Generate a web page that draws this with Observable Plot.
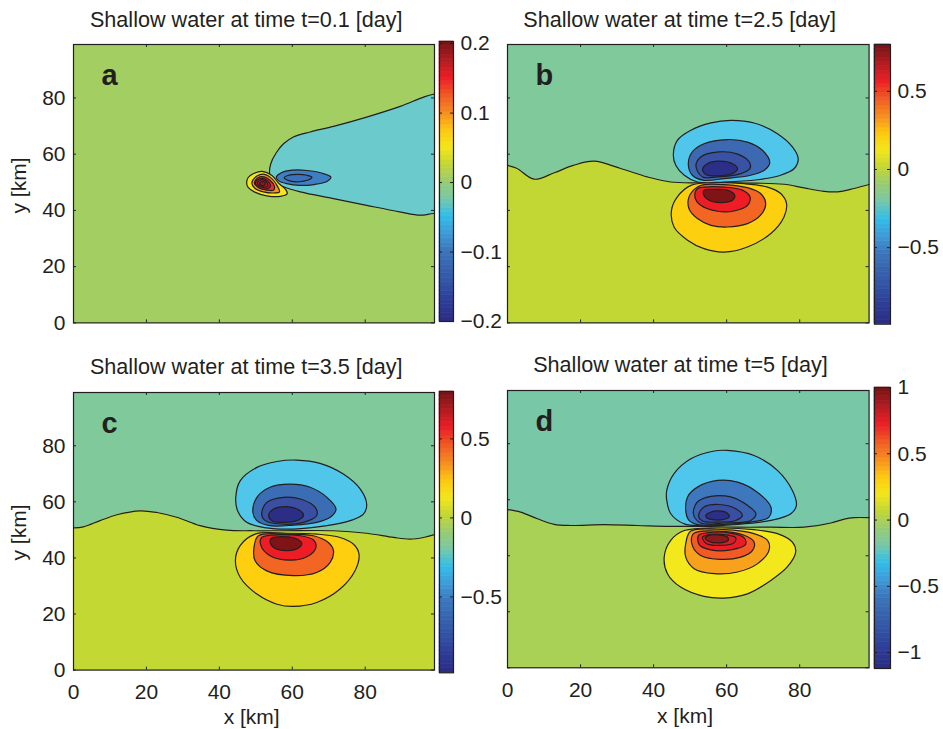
<!DOCTYPE html>
<html><head><meta charset="utf-8">
<script src="https://cdn.jsdelivr.net/npm/d3@7"></script>
<script src="https://cdn.jsdelivr.net/npm/@observablehq/plot@0.6"></script>
<style>
body{margin:0;background:#fff;}
#root{position:relative;width:943px;height:729px;overflow:hidden;font-family:"Liberation Sans",Arial,Helvetica,sans-serif;color:#231f20;background:#fff;}
.t{position:absolute;font-size:21px;line-height:21px;white-space:nowrap;text-align:center;width:400px;}
.t.h{font-size:21.6px;}
</style></head><body><div id="root"></div><script>
// ---------- tick values ----------
const xTicks = [0, 20, 40, 60, 80];
const yTicks = [0, 20, 40, 60, 80];
const titles = ["Shallow water at time t=0.1 [day]", "Shallow water at time t=2.5 [day]", "Shallow water at time t=3.5 [day]", "Shallow water at time t=5 [day]"];
const letters = ["a", "b", "c", "d"];
const cbDomainA = [-0.2, 0.203], cbTicksA = [-0.2, -0.1, 0, 0.1, 0.2];
const cbDomainB = [-0.99, 0.8], cbTicksB = [-0.5, 0, 0.5];
const cbDomainC = [-0.98, 0.8], cbTicksC = [-0.5, 0, 0.5];
const cbDomainD = [-1.12, 1.0], cbTicksD = [-1, -0.5, 0, 0.5, 1];
// printed "jet" colormap stops (bottom to top)
const JET = ["#2b2e84","#2e3d97","#3251a3","#3763ae","#3c76bb","#3f9bd7","#32bdea","#78c8a8","#98cc72","#c4d733","#f3e61a","#fdc60f","#f68c20","#f05a23","#ec1e25","#b41b20","#7b1416"];

// ---------- panel a (t=0.1) ----------
const levelsA = [-0.125, -0.1, -0.05, 0, 0.025, 0.05, 0.075, 0.1, 0.125, 0.15];
const fillsA = ["#3a72bb","#3e7fc4","#6bcacc","#a3cf62","#f4e61b","#f7901e","#e42b29","#cc2229","#a81e23","#8a191b"];
const aCyan = [[103,81.8],[98.7,81.3],[96,80.3],[89.6,77.0],[80.4,73.2],[71.3,69.9],[64.9,67.9],[60.3,66.1],[57.6,63.7],[55.6,60.5],[54.1,56.6],[53.8,53.1],[54.9,50.1],[57.6,48.4],[62.2,46.6],[71.3,44.2],[80.4,41.8],[89.4,39.5],[95.1,38.3],[98.7,38.9],[103,39]];
const aBlue = [[55.6,51.8],[57.0,53.4],[60,54.3],[64,54.2],[68,53.3],[70.6,51.8],[69.5,50.3],[66,49.2],[62,48.9],[58.5,49.5],[56.3,50.5]];
const aBlue2 = [[57.8,51.6],[59,52.5],[61.5,52.8],[64,52.5],[65.4,51.8],[64.3,50.8],[61.8,50.2],[59.3,50.5]];
const aYellow = [[47.5,49.6],[47.9,51.7],[49.4,53.1],[51.7,53.9],[54.5,52.3],[56.3,49.6],[58.2,47.4],[58.6,45.9],[56.7,45.0],[53.0,45.2],[49.7,46.5],[47.9,48.2]];
const aOrange = [[48.9,49.8],[50.3,52.2],[52.1,52.9],[54.4,51.3],[55.8,48.9],[56.5,46.6],[54.9,46.2],[52.1,46.6],[49.8,47.8]];
const aRed = [[49.6,49.8],[50.7,51.7],[52.3,51.9],[53.9,50.7],[55.1,48.6],[54.9,47.2],[53.0,47.2],[50.7,48.2]];
const aRed1 = [[49.9,49.6],[50.8,51.1],[52.2,51.3],[53.4,50.3],[54.0,48.6],[53.0,47.7],[51.2,47.8]];
const aRed2 = [[50.4,49.6],[51.1,50.7],[52.3,50.8],[53.1,49.8],[53.3,48.6],[52.2,48.2],[51.0,48.6]];
const aRed3 = [[51.0,49.5],[51.6,50.2],[52.3,50.2],[52.6,49.4],[52.2,48.8],[51.4,48.9]];

// ---------- panel b (t=2.5) ----------
const levelsB = [-0.85, -0.7, -0.55, -0.4, -0.2, 0, 0.2, 0.4, 0.6, 0.75];
const fillsB = ["#2b2f87","#3a52a4","#3c69b1","#4fc6ea","#7fc99b","#c2d734","#fdd00f","#f26522","#ee1c25","#7f1416"];
const zeroB = [[0,56.0],[2.5,55.0],[7.3,51.1],[12.8,53.4],[18,56.0],[23.7,57.5],[31,54.9],[38.3,51.9],[44.7,50.1],[52,49.8],[60,49.8],[68,49.7],[75.7,49.3],[81.2,48.0],[86,46.9],[90.3,46.6],[94.9,47.8],[99,49.2]];
const bL1 = [[45.4,59.6],[46.5,64.9],[50.2,68.5],[55.7,71.1],[61.1,72.0],[67.5,71.1],[73.9,67.3],[78.0,62.6],[79.6,58.4],[78.5,54.9],[74.8,52.5],[68.4,50.9],[59.3,50.1],[52.0,50.1],[48.4,52.5],[46.1,56.0]];
const bL2 = [[49.5,56.6],[50.6,60.8],[53.8,63.7],[60.2,65.2],[65.7,64.3],[69.8,61.4],[71.8,56.9],[70.3,54.3],[66.6,52.5],[59.3,51.3],[53.8,50.7],[50.6,52.5]];
const bL3 = [[51.6,55.7],[52.9,59.0],[57.9,60.8],[63.0,60.0],[66.2,57.2],[66.4,54.9],[63.9,53.1],[57.5,51.9],[53.4,51.9]];
const bL4 = [[53.4,54.5],[54.7,56.6],[57.9,57.5],[61.6,56.6],[63.0,54.9],[61.6,53.1],[57.5,52.3],[54.3,52.8]];
const bY = [[50.2,48.9],[46.5,44.8],[44.9,40.0],[45.6,34.1],[49.3,29.4],[53.8,26.4],[59.3,25.2],[65.7,27.0],[72.1,31.8],[75.7,37.7],[76.4,42.4],[74.8,46.0],[71.2,48.3],[64.8,49.5],[55.7,49.8]];
const bO = [[52.0,48.3],[49.7,44.8],[49.7,40.6],[52.0,37.1],[55.7,34.7],[60.2,34.1],[65.7,35.3],[69.3,38.3],[70.7,42.4],[69.3,46.0],[65.7,48.1],[59.3,49.2],[53.8,49.2]];
const bR = [[52.0,47.7],[51.3,44.8],[52.9,41.8],[57.5,39.7],[62.0,39.8],[65.7,41.8],[66.4,44.8],[64.3,47.2],[59.3,48.3],[53.8,48.3]];
const bDR = [[53.6,46.0],[55.2,43.6],[58.4,42.8],[61.6,43.6],[62.2,45.4],[60.2,47.2],[56.6,47.5],[53.8,47.2]];

// ---------- panel c (t=3.5) ----------
const levelsC = [-0.85, -0.7, -0.55, -0.4, -0.2, 0, 0.2, 0.4, 0.6, 0.75];
const fillsC = ["#2c2e86","#3a4fa2","#3b6db4","#4fc6ea","#7fc99b","#c4d834","#fdcf0f","#f26522","#ee1c25","#7f1416"];
const zeroC = [[0,50.7],[2.7,51.1],[7.3,53.3],[11.9,55.4],[18.3,56.8],[22.9,56.2],[28.3,54.5],[34.7,51.5],[42.0,49.9],[49.4,49.7],[57.6,49.7],[71.3,49.7],[80.4,48.8],[87.8,47.3],[92.3,46.7],[96.0,47.3],[99,48.3]];
const cL1 = [[44.5,61.6],[45.7,67.5],[50.3,72.3],[55.8,74.4],[61.2,74.9],[67.6,73.7],[74.0,69.9],[78.6,64.6],[80.4,59.2],[79.5,55.6],[75.9,53.3],[69.5,51.5],[60.3,50.3],[53.0,50.7],[47.5,52.7],[45.0,56.8]];
const cL2 = [[49.2,56.2],[50.3,61.6],[53.9,65.2],[59.4,66.3],[64.9,65.2],[69.5,61.6],[72.0,57.4],[70.4,54.5],[66.7,52.7],[60.3,51.7],[53.9,51.5],[50.3,53.3]];
const cL3 = [[51.6,55.6],[53.0,59.8],[57.6,61.6],[62.2,61.0],[66.3,58.0],[66.7,55.1],[63.1,52.7],[56.7,52.1],[52.6,53.3]];
const cL4 = [[53.5,55.1],[54.8,57.4],[58.5,58.3],[62.2,56.8],[63.1,55.1],[61.2,53.3],[57.6,52.7],[54.4,53.3]];
const cY = [[49.8,48.5],[45.7,44.4],[44.4,39.0],[45.7,33.1],[50.3,27.1],[55.8,23.5],[60.3,22.7],[66.7,24.1],[73.1,28.9],[77.2,35.4],[78.3,41.4],[76.8,44.9],[73.1,47.3],[66.7,48.5],[58.5,48.8]];
const cO = [[50.7,47.9],[49.5,43.8],[49.8,39.0],[53.0,35.4],[60.3,33.7],[66.7,34.8],[70.4,38.4],[71.3,42.6],[69.9,45.5],[65.8,47.9],[58.5,48.5]];
const cR = [[51.6,47.3],[51.4,44.4],[53.9,40.8],[59.4,39.2],[64.0,40.4],[66.5,43.8],[65.8,46.4],[62.2,47.9],[56.7,48.3]];
const cDR = [[53.9,46.1],[54.8,43.8],[58.5,42.6],[61.7,43.5],[62.6,45.2],[60.8,47.0],[57.1,47.6],[54.4,47.1]];

// ---------- panel d (t=5) ----------
const levelsD = [-1, -0.8, -0.65, -0.5, -0.25, -0.1, 0.1, 0.25, 0.4, 0.55, 0.7, 0.85, 1];
const fillsD = ["#2c2f88","#3a4ea3","#3b62ae","#3d77bd","#4fc7ec","#78c8a8","#a9d155","#f2e81b","#f8a11d","#f15a24","#ec1c24","#d51f26","#8a1a1c"];
const zeroD = [[0,56.5],[3.6,55.6],[8.2,53.2],[12.8,51.2],[17.3,50.8],[26.5,51.1],[35.6,50.8],[44.7,50.5],[53.8,50.5],[63.0,50.2],[72.1,50.2],[81.2,50.2],[88.5,51.7],[92.2,53.1],[94.9,53.6],[99,53.6]];
const dL1 = [[43.6,63.3],[45.6,69.3],[50.2,74.6],[56.6,77.4],[60.2,77.6],[67.5,75.8],[73.9,70.5],[78.0,63.3],[79.1,58.0],[77.6,55.0],[72.1,52.6],[63.0,51.2],[53.8,50.8],[48.4,51.4],[44.7,55.0],[43.6,59.8]];
const dL2 = [[48.8,56.2],[49.3,61.0],[52.0,64.5],[57.5,66.9],[63.0,66.3],[68.4,62.7],[72.1,57.4],[71.6,53.8],[66.6,52.0],[58.4,51.1],[52.0,51.1],[49.7,52.6]];
const dL3 = [[50.9,55.0],[52.0,59.2],[55.7,61.2],[61.1,61.0],[65.7,58.0],[68.0,55.0],[66.6,52.6],[59.3,51.7],[52.9,51.7]];
const dL4 = [[52.3,54.4],[53.8,57.4],[57.9,58.3],[62.5,56.8],[64.3,54.4],[62.5,52.6],[57.5,52.0],[53.4,52.4]];
const dL5 = [[54.3,54.4],[55.7,55.6],[57.9,56.0],[60.2,55.2],[60.7,53.8],[58.9,52.9],[56.1,52.9],[54.6,53.5]];
const dY = [[48.4,49.0],[44.7,45.5],[42.9,39.5],[43.8,33.6],[47.4,28.8],[53.8,25.5],[59.3,24.9],[65.7,26.4],[72.1,31.2],[76.6,36.0],[78.9,41.3],[78.0,44.9],[73.9,47.9],[67.5,49.3],[57.5,49.9]];
const dO = [[50.2,48.8],[48.8,44.3],[48.8,39.5],[51.1,35.4],[56.6,33.6],[63.0,34.2],[68.4,37.1],[71.6,41.9],[71.2,45.5],[67.5,47.9],[59.3,49.3]];
const dOR = [[50.9,47.9],[50.6,43.7],[52.9,40.1],[58.4,38.7],[63.9,39.5],[67.1,41.9],[67.5,44.9],[64.8,47.3],[57.5,48.8]];
const dR = [[52.3,47.3],[52.5,44.0],[55.7,42.1],[61.1,42.1],[65.2,44.0],[64.8,46.4],[61.1,48.1],[54.7,48.2]];
const dR2 = [[53.4,46.7],[54.3,44.5],[57.9,43.7],[62.0,44.6],[62.5,46.4],[59.8,47.5],[55.7,47.6]];
const dDR = [[54.1,46.4],[55.2,45.1],[57.9,44.6],[60.4,45.5],[60.2,46.7],[57.9,47.4],[55.2,47.3]];

// ---------- assembly ----------
const INK = "#231f20";
const FONT = "'Liberation Sans', Arial, Helvetica, sans-serif";
const root = document.getElementById("root");
function place(el, left, top) {
  el.style.position = "absolute"; el.style.left = left + "px"; el.style.top = top + "px";
  root.appendChild(el);
}
function panel(p) {
  const ml = 74, mr = 4, mt = 4, mb = 42;
  const [fx1, fy1, fx2, fy2] = p.frame;
  const fw = fx2 - fx1, fh = fy2 - fy1;
  const rows = p.contours.flatMap((c, i) => c.pts.map(([x, y]) => ({id: i, level: c.level, x, y})));
  const col = l => p.fills[p.levels.indexOf(l)];
  const marks = [Plot.frame({fill: col(p.bg)})];
  if (p.zero) {
    const z = p.zero.map(([x, y]) => ({x, y}));
    marks.push(Plot.areaY(z, {x: "x", y1: 0, y2: "y", fill: () => p.below, curve: "catmull-rom"}));
    marks.push(Plot.line(z, {x: "x", y: "y", stroke: INK, strokeWidth: 1.2, curve: "catmull-rom"}));
  }
  marks.push(Plot.line(rows, {x: "x", y: "y", z: "id", fill: "level", stroke: INK, strokeWidth: 1.2, curve: "catmull-rom-closed", clip: true}));
  marks.push(Plot.text([p.letter], {text: d => d, frameAnchor: "top-left", dx: 28, dy: 41, lineAnchor: "bottom", textAnchor: "start", fontSize: 29, fontWeight: "bold", fill: INK}));
  marks.push(Plot.tickX(xTicks, {x: d => d, stroke: INK, insetTop: fh - 3}));
  marks.push(Plot.tickX(xTicks, {x: d => d, stroke: INK, insetBottom: fh - 3}));
  marks.push(Plot.tickY(yTicks, {y: d => d, stroke: INK, insetRight: fw - 3}));
  marks.push(Plot.tickY(yTicks, {y: d => d, stroke: INK, insetLeft: fw - 3}));
  if (p.yLabels) marks.push(Plot.axisY(yTicks, {tickSize: 0, tickPadding: 8, fontSize: 21, label: null, fill: INK}));
  if (p.xLabels) marks.push(Plot.axisX(xTicks, {tickSize: 0, tickPadding: 14, fontSize: 21, label: null, fill: INK}));
  marks.push(Plot.frame({stroke: INK, strokeWidth: 1.2}));
  const svg = Plot.plot({
    width: ml + fw + mr, height: mt + fh + mb,
    marginLeft: ml, marginRight: mr, marginTop: mt, marginBottom: mb,
    x: p.xLabels ? {domain: [0, 99]} : {domain: [0, 99], axis: null},
    y: p.yLabels ? {domain: [0, 99]} : {domain: [0, 99], axis: null},
    color: {type: "ordinal", domain: p.levels, range: p.fills},
    style: {fontFamily: FONT, color: INK, background: "transparent", overflow: "visible"},
    marks
  });
  place(svg, fx1 - ml, fy1 - mt);
}
const jet = d3.piecewise(d3.interpolateRgb, JET);
function fmt(d) { return (d < 0 ? "\u2212" : "") + Math.abs(d); }
function colorbar(frame, domain, ticks) {
  const ml = 2, mr = 60, mt = 12, mb = 12;
  const [x1, y1, x2, y2] = frame;
  const w = x2 - x1, h = y2 - y1;
  const [lo, hi] = domain;
  const bins = d3.range(64).map(i => ({y1: lo + (hi - lo) * i / 64, y2: lo + (hi - lo) * (i + 1) / 64, c: i / 63}));
  const svg = Plot.plot({
    width: ml + w + mr, height: mt + h + mb,
    marginLeft: ml, marginRight: mr, marginTop: mt, marginBottom: mb,
    x: {domain: [0, 1], axis: null},
    y: {domain},
    color: {type: "linear", domain: [0, 1], interpolate: jet},
    style: {fontFamily: FONT, color: INK, background: "transparent", overflow: "visible"},
    marks: [
      Plot.rect(bins, {x1: 0, x2: 1, y1: "y1", y2: "y2", fill: "c", stroke: "c", strokeWidth: 0.6}),
      Plot.tickY(ticks, {y: d => d, stroke: INK, insetRight: w - 3}),
      Plot.tickY(ticks, {y: d => d, stroke: INK, insetLeft: w - 3}),
      Plot.axisY(ticks, {anchor: "right", tickSize: 0, tickPadding: 7, fontSize: 21, label: null, tickFormat: fmt, fill: INK}),
      Plot.frame({stroke: INK, strokeWidth: 1.2})
    ]
  });
  place(svg, x1 - ml, y1 - mt);
}
function htmlText(txt, cx, baseline, rotate, cls) {
  const d = document.createElement("div");
  d.className = "t" + (cls ? " " + cls : ""); d.textContent = txt;
  if (rotate) {
    d.style.transform = "rotate(-90deg)";
    d.style.transformOrigin = "50% 50%";
    place(d, cx - 200, baseline - 10.5);
  } else {
    place(d, cx - 200, baseline - 17.8);
  }
}

panel({frame: [73.3, 44.3, 434.3, 322.7], levels: levelsA, fills: fillsA, bg: 0, letter: letters[0], yLabels: true, xLabels: false,
  contours: [{level: -0.05, pts: aCyan}, {level: -0.1, pts: aBlue}, {level: -0.125, pts: aBlue2},
    {level: 0.025, pts: aYellow}, {level: 0.05, pts: aOrange}, {level: 0.075, pts: aRed}, {level: 0.1, pts: aRed1}, {level: 0.125, pts: aRed2}, {level: 0.15, pts: aRed3}]});
panel({frame: [506.7, 44.3, 868.3, 322.7], levels: levelsB, fills: fillsB, bg: -0.2, below: 0, zero: zeroB, letter: letters[1], yLabels: false, xLabels: false,
  contours: [{level: -0.4, pts: bL1}, {level: -0.55, pts: bL2}, {level: -0.7, pts: bL3}, {level: -0.85, pts: bL4},
    {level: 0.2, pts: bY}, {level: 0.4, pts: bO}, {level: 0.6, pts: bR}, {level: 0.75, pts: bDR}]});
panel({frame: [73.3, 391.7, 434.3, 669.3], levels: levelsC, fills: fillsC, bg: -0.2, below: 0, zero: zeroC, letter: letters[2], yLabels: true, xLabels: true,
  contours: [{level: -0.4, pts: cL1}, {level: -0.55, pts: cL2}, {level: -0.7, pts: cL3}, {level: -0.85, pts: cL4},
    {level: 0.2, pts: cY}, {level: 0.4, pts: cO}, {level: 0.6, pts: cR}, {level: 0.75, pts: cDR}]});
panel({frame: [506.7, 390, 868.3, 667.3], levels: levelsD, fills: fillsD, bg: -0.1, below: 0.1, zero: zeroD, letter: letters[3], yLabels: false, xLabels: true,
  contours: [{level: -0.25, pts: dL1}, {level: -0.5, pts: dL2}, {level: -0.65, pts: dL3}, {level: -0.8, pts: dL4}, {level: -1, pts: dL5},
    {level: 0.25, pts: dY}, {level: 0.4, pts: dO}, {level: 0.55, pts: dOR}, {level: 0.7, pts: dR}, {level: 0.85, pts: dR2}, {level: 1, pts: dDR}]});

colorbar([439.3, 40.7, 453.3, 320.7], cbDomainA, cbTicksA);
colorbar([874, 44.3, 890, 324], cbDomainB, cbTicksB);
colorbar([439.3, 391, 453.3, 672.3], cbDomainC, cbTicksC);
colorbar([874, 387.3, 890, 668.3], cbDomainD, cbTicksD);

htmlText(titles[0], 246.3, 26.7, false, "h");
htmlText(titles[1], 679.7, 26.7, false, "h");
htmlText(titles[2], 246.3, 373.3, false, "h");
htmlText(titles[3], 680.5, 372, false, "h");
htmlText("y [km]", 17.5, 185, true);
htmlText("y [km]", 17.5, 532, true);
htmlText("x [km]", 251.7, 724);
htmlText("x [km]", 685, 723);
</script></body></html>
